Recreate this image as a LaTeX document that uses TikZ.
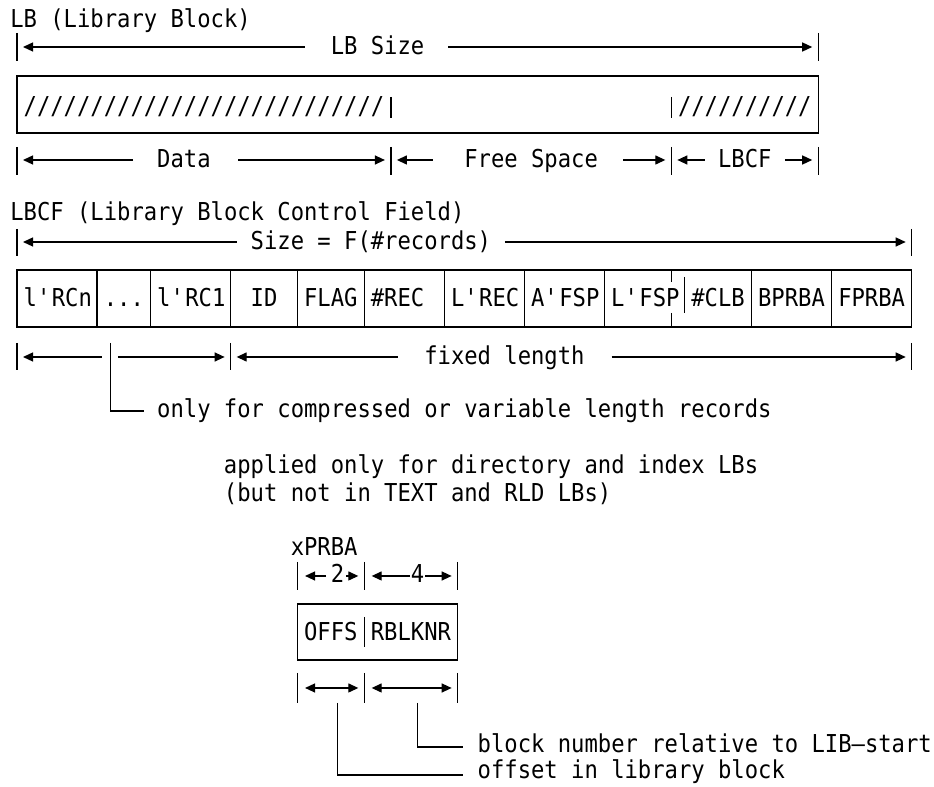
\documentclass[tikz,border=0pt]{standalone}
\usepackage{fontspec}
\newfontfamily\mono{DejaVu Sans Mono}[FakeStretch=0.9]
\usetikzlibrary{arrows.meta}
\tikzset{
  txt/.style={anchor=base west, inner sep=0pt, outer sep=0pt, font=\mono\fontsize{24.65bp}{28bp}\selectfont},
  ln/.style={line width=1.3bp},
  arr/.style={ln, -{Triangle[length=10bp,width=9bp]}},
  darr/.style={ln, {Triangle[length=10bp,width=9bp]}-{Triangle[length=10bp,width=9bp]}},
}
\newcommand{\q}{\textquotesingle}
\begin{document}
\begin{tikzpicture}[x=13.354bp, y=-1bp]
\useasboundingbox (-1.2731,0) rectangle (68.6697,787);
% ---------------- LB
\node[txt] (lbt) at (-0.5,28) {LB (Library Block)};
\draw[ln] (0,33) -- (0,61) (60,33) -- (60,61);
\draw[arr] (21.55,47) -- (0.45,47);
\node[txt] (lbs) at (23.5,55) {LB Size};
\draw[arr] (32.3,47) -- (59.55,47);
\draw[ln] (0,76) rectangle (60,133);
\node[txt] (sl1) at (0.5,115) {///////////////////////////};
\draw[ln] (28,97) -- (28,118) (49,97) -- (49,118);
\node[txt] (sl2) at (49.5,115) {//////////};
\draw[ln] (0,147) -- (0,175) (28,147) -- (28,175) (49,147) -- (49,175) (60,147) -- (60,175);
\draw[arr] (8.69,160) -- (0.45,160);
\node[txt] (data) at (10.5,168) {Data};
\draw[arr] (16.55,160) -- (27.55,160);
\draw[arr] (31.15,160) -- (28.45,160);
\node[txt] (free) at (33.5,168) {Free Space};
\draw[arr] (45.4,160) -- (48.55,160);
\draw[arr] (51.5,160) -- (49.45,160);
\node[txt] (lbcf) at (52.5,168) {LBCF};
\draw[arr] (57.5,160) -- (59.55,160);
% ---------------- LBCF
\node[txt] (lbcft) at (-0.5,221) {LBCF (Library Block Control Field)};
\draw[ln] (0,229) -- (0,256) (67,229) -- (67,256);
\draw[arr] (16.47,242) -- (0.45,242);
\node[txt] (size) at (17.5,250) {Size = F(\#records)};
\draw[arr] (36.54,242) -- (66.55,242);
\draw[ln] (0,270) rectangle (67,327);
\foreach \c in {6,10,16,21,26,32,38,44,55,61} \draw[ln] (\c,270) -- (\c,327);
\draw[ln] (49,270) -- (49,282) (49,313) -- (49,327) (50,277) -- (50,313);
\node[txt] (f1) at (0.5,307) {l\q RCn};
\node[txt] (f2) at (6.5,307) {...};
\node[txt] (f3) at (10.5,307) {l\q RC1};
\node[txt] (f4) at (17.5,307) {ID};
\node[txt] (f5) at (21.5,307) {FLAG};
\node[txt] (f6) at (26.5,307) {\#REC};
\node[txt] (f7) at (32.5,307) {L\q REC};
\node[txt] (f8) at (38.5,307) {A\q FSP};
\node[txt] (f9) at (44.5,307) {L\q FSP};
\node[txt] (f10) at (50.5,307) {\#CLB};
\node[txt] (f11) at (55.5,307) {BPRBA};
\node[txt] (f12) at (61.5,307) {FPRBA};
\draw[ln] (0,343) -- (0,370) (16,343) -- (16,370) (67,343) -- (67,370);
\draw[ln] (7,343) -- (7,411) -- (9.5,411);
\draw[arr] (6.34,357) -- (0.45,357);
\draw[arr] (7.56,357) -- (15.55,357);
\draw[arr] (28.53,357) -- (16.45,357);
\node[txt] (fixed) at (30.5,365) {fixed length};
\draw[arr] (44.53,357) -- (66.55,357);
\node[txt] (only) at (10.5,418) {only for compressed or variable length records};
\node[txt] (appl) at (15.5,474) {applied only for directory and index LBs};
\node[txt] (but) at (15.5,502) {(but not in TEXT and RLD LBs)};
% ---------------- xPRBA
\node[txt] (xp) at (20.5,556) {xPRBA};
\draw[ln] (21,562) -- (21,590) (26,562) -- (26,590) (33,562) -- (33,590);
\draw[arr] (23.14,576) -- (21.57,576);
\node[txt] (two) at (23.5,583) {2};
\draw[arr] (24.64,576) -- (25.56,576);
\draw[arr] (29.43,576) -- (26.56,576);
\node[txt] (four) at (29.5,583) {4};
\draw[arr] (30.59,576) -- (32.55,576);
\draw[ln] (21,604) rectangle (33,660);
\draw[ln] (26,617) -- (26,647);
\node[txt] (offs) at (21.5,641) {OFFS};
\node[txt] (rbl) at (26.5,641) {RBLKNR};
\draw[ln] (21,673) -- (21,703) (26,673) -- (26,703) (33,673) -- (33,703);
\draw[darr] (21.57,688) -- (25.56,688);
\draw[darr] (26.56,688) -- (32.55,688);
\draw[ln] (30,703) -- (30,747) -- (33.4,747);
\draw[ln] (24,703) -- (24,775) -- (33.4,775);
\node[txt] (blk) at (34.5,753) {block number relative to LIB\textendash start};
\node[txt] (off) at (34.5,779) {offset in library block};
\end{tikzpicture}
\end{document}
